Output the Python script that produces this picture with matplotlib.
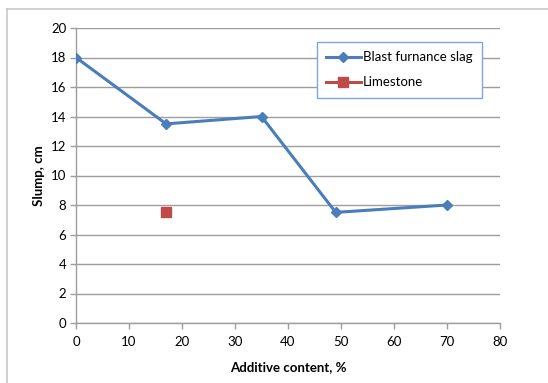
import matplotlib
matplotlib.use("Agg")
import matplotlib.pyplot as plt
from matplotlib.lines import Line2D

plt.rcParams['font.family'] = ['Lato', 'DejaVu Sans']

slag_x = [0, 17, 35, 49, 70]
slag_y = [18, 13.5, 14, 7.5, 8]
lime_x = [17]
lime_y = [7.5]
x_ticks = [0, 10, 20, 30, 40, 50, 60, 70, 80]
y_ticks = [0, 2, 4, 6, 8, 10, 12, 14, 16, 18, 20]

W, H = 548, 383
fig = plt.figure(figsize=(W / 100, H / 100), dpi=100)
ax = fig.add_axes([76 / W, 1 - 323 / H, (500 - 76) / W, (323 - 28) / H])

blue = '#4a7ebb'
red = '#be4b48'
grid = '#9e9e9e'

ax.plot(slag_x, slag_y, color=blue, lw=2.2, marker='D', ms=5.5,
        label='Blast furnance slag', zorder=3)
ax.plot(lime_x, lime_y, color=red, lw=2.2, marker='s', ms=7, ls='none',
        label='Limestone', zorder=3)

ax.set_xlim(0, 80)
ax.set_ylim(0, 20)
ax.set_xticks(x_ticks)
ax.set_yticks(y_ticks)
ax.yaxis.grid(True, color=grid, lw=1)
ax.set_axisbelow(True)
for s in ['top', 'right']:
    ax.spines[s].set_visible(False)
for s in ['left', 'bottom']:
    ax.spines[s].set_color(grid)
    ax.spines[s].set_linewidth(1)
ax.tick_params(axis='both', colors=grid, labelcolor='black', labelsize=9.5,
               length=4, width=1, direction='out')
ax.tick_params(axis='x', pad=5)
ax.tick_params(axis='y', pad=3)

ax.set_xlabel('Additive content, %', fontsize=9.5, fontweight='bold', labelpad=10)
ax.set_ylabel('Slump, cm', fontsize=9.5, fontweight='bold', labelpad=4)

# legend drawn with line through marker, as in spreadsheet charts
h1 = Line2D([], [], color=blue, lw=2.2, marker='D', ms=5.5)
h2 = Line2D([], [], color=red, lw=2.2, marker='s', ms=7)
leg = ax.legend([h1, h2], ['Blast furnance slag', 'Limestone'],
                loc='upper left', bbox_to_anchor=(241 / 424, (323 - 42) / 295),
                fontsize=9.5, frameon=True, fancybox=False, framealpha=1,
                edgecolor='#7ea6d8', borderpad=0.7, labelspacing=1.0,
                handlelength=2.6, handletextpad=0.2, borderaxespad=0)
leg.get_frame().set_linewidth(1)

# outer chart frame
frame_c = '#c8c8c8'
fig.add_artist(Line2D([7 / W, 7 / W], [0, 1 - 9 / H], color=frame_c, lw=1.2,
                      transform=fig.transFigure))
fig.add_artist(Line2D([7 / W, 1], [1 - 9 / H, 1 - 9 / H], color=frame_c, lw=1.2,
                      transform=fig.transFigure))

fig.savefig('out.png', dpi=100)
